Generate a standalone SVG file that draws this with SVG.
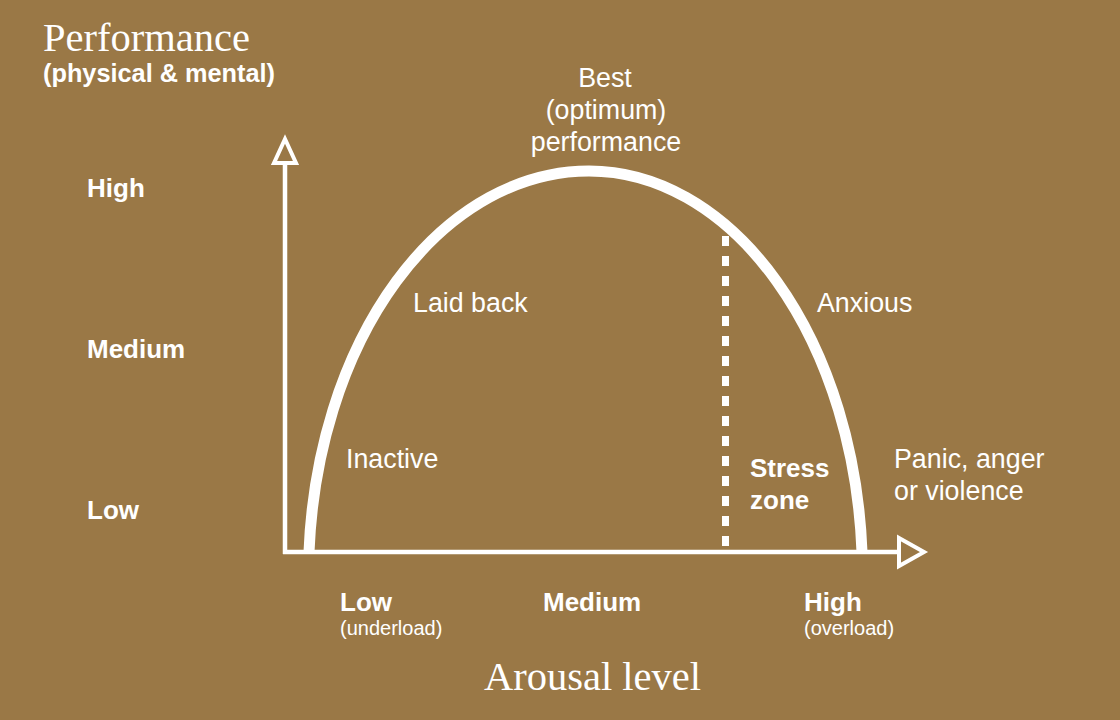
<svg xmlns="http://www.w3.org/2000/svg" width="1120" height="720" viewBox="0 0 1120 720">
  <style>
    .serif { font-family: "Liberation Serif", "Times New Roman", serif; fill: #fff; font-size: 40.5px; }
    .lbl { font-family: "Liberation Sans", Arial, sans-serif; fill: #fff; font-size: 26.8px; }
    .b { font-weight: bold; font-size: 26px; }
    .sm { font-family: "Liberation Sans", Arial, sans-serif; fill: #fff; font-size: 20px; }
    .axis { stroke: #fff; stroke-width: 4.5; fill: none; }
    .head { stroke: #fff; stroke-width: 4; fill: #9a7846; stroke-linejoin: miter; }
  </style>
  <rect width="1120" height="720" fill="#9a7846"/>

  <g id="connectors">
    <line id="y-axis" class="axis" x1="285" y1="163" x2="285" y2="554"/>
    <polygon class="head" points="285,139 274,163 296,163"/>
    <line id="x-axis" class="axis" x1="283" y1="552" x2="899" y2="552"/>
    <polygon class="head" points="899,538 924,552 899,566"/>
    <path id="curve" d="M 309 552 A 280.5 404 0 0 1 589 171 A 273.5 404 0 0 1 862 552" fill="none" stroke="#fff" stroke-width="11"/>
    <line id="stress-line" x1="725.5" y1="236" x2="725.5" y2="552" stroke="#fff" stroke-width="7" stroke-dasharray="10 10"/>
  </g>

  <g id="y-title">
    <text class="serif" x="43" y="51">Performance</text>
    <text class="lbl b" x="43" y="82" style="font-size:25.3px">(physical &amp; mental)</text>
  </g>
  <g id="y-high"><text class="lbl b" x="87" y="197">High</text></g>
  <g id="y-medium"><text class="lbl b" x="87" y="358">Medium</text></g>
  <g id="y-low"><text class="lbl b" x="87" y="519">Low</text></g>

  <g id="best">
    <text class="lbl" x="605" y="87" text-anchor="middle">Best</text>
    <text class="lbl" x="606" y="119" text-anchor="middle">(optimum)</text>
    <text class="lbl" x="606" y="151" text-anchor="middle">performance</text>
  </g>
  <g id="laid-back"><text class="lbl" x="413" y="312">Laid back</text></g>
  <g id="anxious"><text class="lbl" x="817" y="312">Anxious</text></g>
  <g id="inactive"><text class="lbl" x="346" y="468">Inactive</text></g>
  <g id="stress-zone">
    <text class="lbl b" x="750" y="477">Stress</text>
    <text class="lbl b" x="750" y="509">zone</text>
  </g>
  <g id="panic">
    <text class="lbl" x="894" y="468">Panic, anger</text>
    <text class="lbl" x="894" y="500">or violence</text>
  </g>

  <g id="x-low">
    <text class="lbl b" x="340" y="611">Low</text>
    <text class="sm" x="340" y="635">(underload)</text>
  </g>
  <g id="x-medium"><text class="lbl b" x="543" y="611">Medium</text></g>
  <g id="x-high">
    <text class="lbl b" x="804" y="611">High</text>
    <text class="sm" x="804" y="635">(overload)</text>
  </g>
  <g id="x-title"><text class="serif" x="484" y="690">Arousal level</text></g>
</svg>
